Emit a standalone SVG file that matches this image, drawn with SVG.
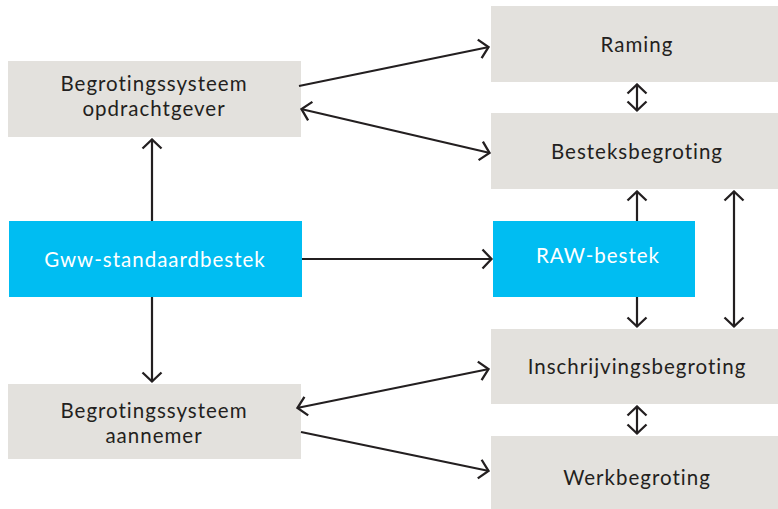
<svg xmlns="http://www.w3.org/2000/svg" width="778" height="509" viewBox="0 0 778 509">
<defs>
<marker id="ah" viewBox="0 0 14 22" refX="12.5" refY="11" markerWidth="14" markerHeight="22" markerUnits="userSpaceOnUse" orient="auto-start-reverse">
<path d="M3,1.5 L12,11 L3,20.5" fill="none" stroke="#231f20" stroke-width="2.3"/>
</marker>
<style>
.g{fill:#e3e1dd}
.b{fill:#00bdf2}
.t{font-family:Lato,"Open Sans",sans-serif;font-size:20.5px;letter-spacing:1px;fill:#231f20;text-anchor:middle}
.w{fill:#ffffff}
.c{stroke:#231f20;stroke-width:2.2;fill:none}
</style>
</defs>
<rect width="778" height="509" fill="#ffffff"/>
<g id="opdrachtgever"><rect class="g" x="8" y="61" width="293" height="76"/><text class="t" x="154" y="91">Begrotingssysteem</text><text class="t" x="154" y="116">opdrachtgever</text></g>
<g id="raming"><rect class="g" x="491" y="6" width="287" height="76"/><text class="t" x="637" y="52">Raming</text></g>
<g id="besteksbegroting"><rect class="g" x="491" y="113" width="287" height="76"/><text class="t" x="637" y="159">Besteksbegroting</text></g>
<g id="gww"><rect class="b" x="9" y="221" width="293" height="76"/><text class="t w" x="155" y="267">Gww-standaardbestek</text></g>
<g id="raw"><rect class="b" x="493" y="221" width="202" height="76"/><text class="t w" x="598" y="263">RAW-bestek</text></g>
<g id="inschrijvingsbegroting"><rect class="g" x="491" y="329" width="287" height="75"/><text class="t" x="637" y="374">Inschrijvingsbegroting</text></g>
<g id="aannemer"><rect class="g" x="8" y="384" width="293" height="75"/><text class="t" x="154" y="418">Begrotingssysteem</text><text class="t" x="154" y="443">aannemer</text></g>
<g id="werkbegroting"><rect class="g" x="491" y="436" width="287" height="73"/><text class="t" x="637" y="485">Werkbegroting</text></g>
<g id="connectors">
<line class="c" x1="299" y1="86" x2="489" y2="47" marker-end="url(#ah)"/>
<line class="c" x1="301" y1="109" x2="490" y2="153" marker-start="url(#ah)" marker-end="url(#ah)"/>
<line class="c" x1="302" y1="259" x2="492" y2="259" marker-end="url(#ah)"/>
<line class="c" x1="152" y1="221" x2="152" y2="139" marker-end="url(#ah)"/>
<line class="c" x1="152" y1="297" x2="152" y2="382" marker-end="url(#ah)"/>
<line class="c" x1="637" y1="84" x2="637" y2="111" marker-start="url(#ah)" marker-end="url(#ah)"/>
<line class="c" x1="637" y1="221" x2="637" y2="191" marker-end="url(#ah)"/>
<line class="c" x1="637" y1="297" x2="637" y2="327" marker-end="url(#ah)"/>
<line class="c" x1="734" y1="191" x2="734" y2="327" marker-start="url(#ah)" marker-end="url(#ah)"/>
<line class="c" x1="297" y1="408" x2="489" y2="369" marker-start="url(#ah)" marker-end="url(#ah)"/>
<line class="c" x1="301" y1="432" x2="489" y2="471" marker-end="url(#ah)"/>
<line class="c" x1="637" y1="406" x2="637" y2="434" marker-start="url(#ah)" marker-end="url(#ah)"/>
</g>
</svg>
